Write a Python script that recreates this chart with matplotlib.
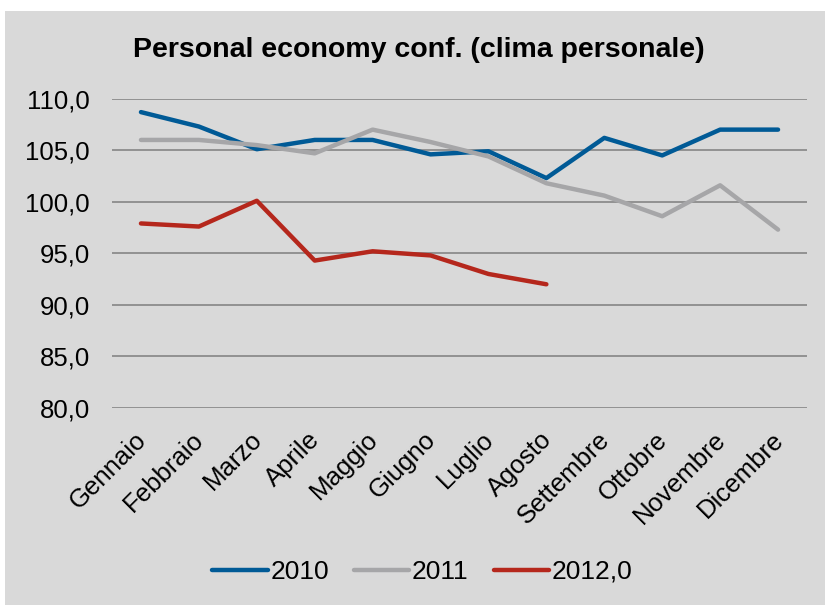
import matplotlib
matplotlib.use('Agg')
import matplotlib.pyplot as plt
import matplotlib.transforms as mtransforms
from matplotlib.patches import Rectangle
from matplotlib.ticker import FuncFormatter

# ---------------------- Data ---------------------- #
months = ['Gennaio', 'Febbraio', 'Marzo', 'Aprile', 'Maggio', 'Giugno',
          'Luglio', 'Agosto', 'Settembre', 'Ottobre', 'Novembre', 'Dicembre']
values_2010 = [108.7, 107.3, 105.1, 106.0, 106.0, 104.6, 104.9, 102.3, 106.2, 104.5, 107.0, 107.0]
values_2011 = [106.0, 106.0, 105.5, 104.7, 107.0, 105.8, 104.4, 101.8, 100.6, 98.6, 101.6, 97.3]
values_2012 = [97.9, 97.6, 100.1, 94.3, 95.2, 94.8, 93.0, 92.0]
series_labels = ['2010', '2011', '2012,0']
# -------------------------------------------------- #

plt.rcParams['font.family'] = ['Liberation Sans', 'DejaVu Sans']

BG = '#d9d9d9'
fig = plt.figure(figsize=(8.25, 6.05), dpi=100)
fig.patch.set_facecolor('white')
# grey chart area (white strip on top / left like the original)
fig.patches.append(Rectangle((5 / 825, 0), 1 - 5 / 825, 1 - 11 / 605,
                             transform=fig.transFigure, facecolor=BG,
                             edgecolor='none', zorder=-10))

ax = fig.add_axes([112 / 825, 1 - 408 / 605, 695 / 825, (408 - 98.7) / 605])
ax.set_facecolor(BG)

x = list(range(len(months)))
ax.plot(x, values_2010, color='#005a96', linewidth=3.2, solid_capstyle='round',
        solid_joinstyle='round', label=series_labels[0], zorder=3)
ax.plot(x, values_2011, color='#a6a6a8', linewidth=3.2, solid_capstyle='round',
        solid_joinstyle='round', label=series_labels[1], zorder=3)
ax.plot(x[:len(values_2012)], values_2012, color='#b5271c', linewidth=3.2,
        solid_capstyle='round', solid_joinstyle='round', label=series_labels[2], zorder=3)

ax.set_xlim(-0.5, len(months) - 0.5)
ax.set_ylim(80, 110)
ax.set_yticks(range(80, 111, 5))
ax.yaxis.set_major_formatter(FuncFormatter(lambda v, p: f'{v:.1f}'.replace('.', ',')))
ax.grid(axis='y', color='#8c8c8c', linewidth=1.3)
ax.set_axisbelow(True)
for s in ax.spines.values():
    s.set_visible(False)
ax.tick_params(axis='y', length=0, pad=16, labelsize=18.5)
ax.tick_params(axis='x', length=0, pad=14, labelsize=18.5)
ax.set_xticks(x)
ax.set_xticklabels(months, rotation=45, ha='right', rotation_mode='anchor')
# nudge the rotated labels a little to the left
shift = mtransforms.ScaledTranslation(-7 / 100, 0, fig.dpi_scale_trans)
for lbl in ax.get_xticklabels():
    lbl.set_transform(lbl.get_transform() + shift)

fig.text(0.508, 1 - 50 / 605, 'Personal economy conf. (clima personale)',
         ha='center', va='center', fontsize=20.5, fontweight='bold')

fig.legend(loc='center', bbox_to_anchor=(0.512, 1 - 572 / 605), ncol=3,
           frameon=False, fontsize=19, handlelength=2.1, handletextpad=0.1,
           columnspacing=0.95)

fig.savefig('out.png', dpi=100)
